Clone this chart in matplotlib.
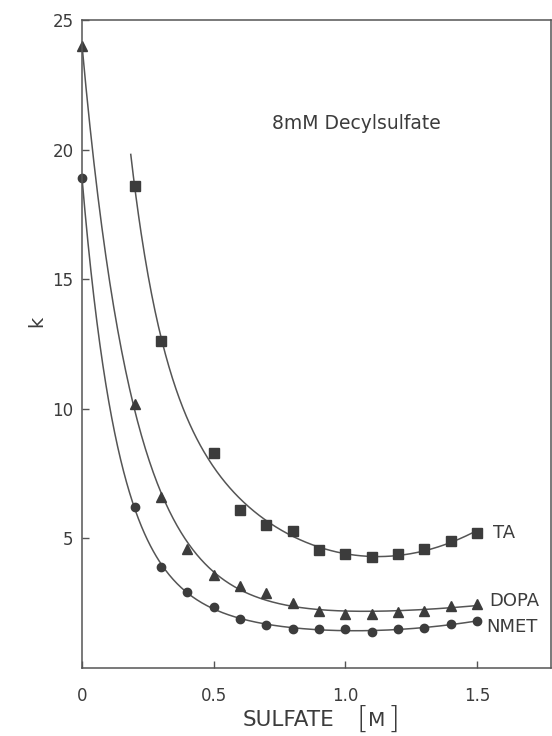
import numpy as np
import matplotlib
matplotlib.use('Agg')
import matplotlib.pyplot as plt

# values
x_ta = [0.2, 0.3, 0.5, 0.6, 0.7, 0.8, 0.9, 1.0, 1.1, 1.2, 1.3, 1.4, 1.5]
k_ta = [18.6, 12.6, 8.3, 6.1, 5.5, 5.3, 4.55, 4.4, 4.3, 4.4, 4.6, 4.9, 5.2]

x_dopa = [0.0, 0.2, 0.3, 0.4, 0.5, 0.6, 0.7, 0.8, 0.9, 1.0, 1.1, 1.2, 1.3, 1.4, 1.5]
k_dopa = [24.0, 10.2, 6.6, 4.6, 3.6, 3.15, 2.9, 2.5, 2.2, 2.1, 2.1, 2.15, 2.2, 2.4, 2.45]

x_nmet = [0.0, 0.2, 0.3, 0.4, 0.5, 0.6, 0.7, 0.8, 0.9, 1.0, 1.1, 1.2, 1.3, 1.4, 1.5]
k_nmet = [18.9, 6.2, 3.9, 2.95, 2.35, 1.9, 1.65, 1.5, 1.5, 1.5, 1.4, 1.5, 1.55, 1.7, 1.8]

xticks = [0, 0.5, 1.0, 1.5]
xticklabels = ['0', '0.5', '1.0', '1.5']
yticks = [5, 10, 15, 20, 25]

ink = '#3c3c3c'
line_col = '#555555'


def fit_curve(x, k, x0, x1):
    # k = a + b*exp(-x/t) + d*x + e*x^2, t picked by a small grid search
    x = np.asarray(x)
    k = np.asarray(k)
    best = None
    for t in np.linspace(0.04, 0.6, 500):
        A = np.column_stack([np.ones_like(x), np.exp(-x / t), x, x ** 2])
        coef = np.linalg.lstsq(A, k, rcond=None)[0]
        err = np.sum((A @ coef - k) ** 2)
        if best is None or err < best[0]:
            best = (err, t, coef)
    _, t, coef = best
    xs = np.linspace(x0, x1, 400)
    return xs, coef[0] + coef[1] * np.exp(-xs / t) + coef[2] * xs + coef[3] * xs ** 2


fig = plt.figure(figsize=(5.52, 7.36), dpi=100)
ax = fig.add_axes([0.1486, 0.0924, 0.8494, 0.8804])

xs, ks = fit_curve(x_ta, k_ta, 0.185, 1.5)
ax.plot(xs, ks, color=line_col, lw=1.1)
xs, ks = fit_curve(x_dopa, k_dopa, 0.0, 1.5)
ax.plot(xs, ks, color=line_col, lw=1.1)
xs, ks = fit_curve(x_nmet, k_nmet, 0.0, 1.5)
ax.plot(xs, ks, color=line_col, lw=1.1)

ax.plot(x_ta, k_ta, 's', color=ink, ms=6.5, mec=ink, clip_on=False)
ax.plot(x_dopa, k_dopa, '^', color=ink, ms=7, mec=ink, clip_on=False)
ax.plot(x_nmet, k_nmet, 'o', color=ink, ms=6, mec=ink, clip_on=False)

ax.set_xlim(0, 1.78)
ax.set_ylim(0, 25)
ax.set_xticks(xticks)
ax.set_xticklabels(xticklabels)
ax.set_yticks(yticks)
ax.tick_params(direction='in', length=5, width=1, color=line_col,
               labelsize=12, labelcolor=ink, pad=6)
ax.tick_params(axis='x', pad=14)
for s in ax.spines.values():
    s.set_color(line_col)
    s.set_linewidth(1.1)

ax.text(-0.096, 0.535, 'k', transform=ax.transAxes, fontsize=14, color=ink,
        rotation=90, ha='center', va='center')

ax.text(1.04, 21.0, '8mM Decylsulfate', fontsize=13.5, color=ink,
        ha='center', va='center')
ax.text(1.56, 5.2, 'TA', fontsize=13, color=ink, va='center')
ax.text(1.545, 2.6, 'DOPA', fontsize=13, color=ink, va='center')
ax.text(1.535, 1.6, 'NMET', fontsize=13, color=ink, va='center')

fig.text(288 / 552, 1 - 720 / 736, 'SULFATE', fontsize=15.5, color=ink,
         ha='center', va='center')
fig.text(377 / 552, 1 - 720 / 736, 'M', fontsize=14.5, color=ink,
         ha='center', va='center')
fig.text(362 / 552, 1 - 719 / 736, '[', fontsize=22, color=ink,
         ha='center', va='center', fontweight='light')
fig.text(393 / 552, 1 - 719 / 736, ']', fontsize=22, color=ink,
         ha='center', va='center', fontweight='light')

fig.savefig('out.png', dpi=100)
